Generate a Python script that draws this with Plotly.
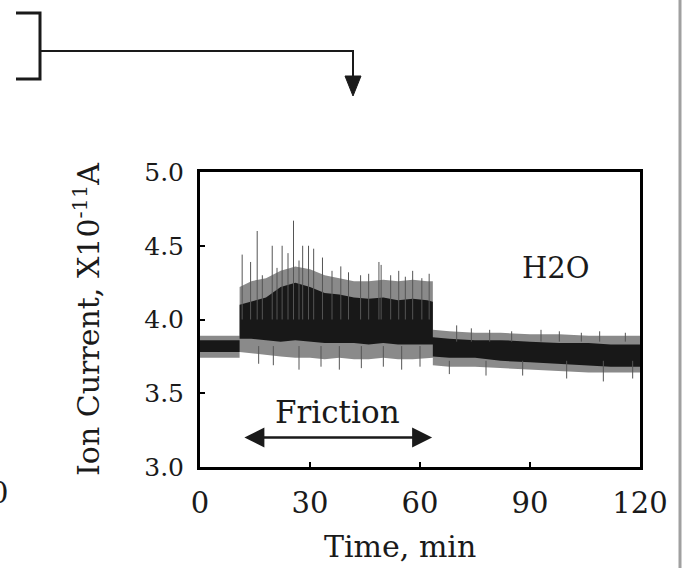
import plotly.graph_objects as go

W, H = 682, 568
L, R, T, B = 200, 42, 172, 101  # plot box: x 200..640, y 172..467

# signal envelopes (time in min, ion current x1e-11 A)
t_env = [0, 5, 10.8, 10.8, 14, 18, 22, 26, 30, 34, 38, 42, 46, 50, 54, 58, 62, 63.5,
         63.5, 68, 75, 82, 90, 98, 106, 112, 120]
core_lo = [3.78, 3.78, 3.78, 3.87, 3.87, 3.86, 3.85, 3.86, 3.85, 3.84, 3.84, 3.84, 3.83,
           3.84, 3.83, 3.83, 3.83, 3.83, 3.75, 3.74, 3.74, 3.72, 3.71, 3.70, 3.69, 3.68, 3.68]
core_hi = [3.86, 3.86, 3.86, 4.10, 4.12, 4.15, 4.22, 4.25, 4.22, 4.18, 4.17, 4.15, 4.14,
           4.15, 4.13, 4.14, 4.13, 4.12, 3.88, 3.87, 3.86, 3.86, 3.85, 3.84, 3.84, 3.83, 3.83]
outer_lo = [3.74, 3.74, 3.74, 3.78, 3.77, 3.76, 3.75, 3.74, 3.74, 3.73, 3.74, 3.73, 3.73,
            3.74, 3.73, 3.73, 3.74, 3.74, 3.69, 3.68, 3.68, 3.67, 3.66, 3.65, 3.64, 3.64, 3.64]
outer_hi = [3.89, 3.89, 3.89, 4.22, 4.26, 4.28, 4.33, 4.36, 4.34, 4.30, 4.28, 4.26, 4.26,
            4.27, 4.26, 4.27, 4.26, 4.26, 3.93, 3.92, 3.91, 3.91, 3.90, 3.90, 3.89, 3.89, 3.89]

# single spikes sticking out of the band: time, start, end
spike_t = [11.5, 13.8, 15.6, 17.0, 19.7, 21.0, 22.4, 24.0, 25.5, 27.0, 28.0, 29.6, 31.0,
           33.4, 36.0, 38.4, 40.5, 43.8, 46.0, 48.8, 49.4, 52.0, 54.2, 56.0, 58.0, 60.5,
           62.5,
           16.0, 20.0, 27.0, 33.0, 38.0, 44.0, 50.0, 55.0, 60.0,
           70.0, 74.0, 79.0, 85.0, 93.0, 98.0, 104.0, 109.0, 116.0,
           68.0, 78.0, 88.0, 100.0, 110.0, 118.0]
spike_from = [4.0] * 27 + [3.82] * 9 + [3.85] * 9 + [3.72] * 6
spike_to = [4.44, 4.39, 4.60, 4.30, 4.50, 4.35, 4.50, 4.45, 4.67, 4.40, 4.50, 4.50, 4.48,
            4.42, 4.33, 4.36, 4.32, 4.30, 4.31, 4.39, 4.37, 4.30, 4.33, 4.29, 4.33, 4.28,
            4.31,
            3.70, 3.69, 3.66, 3.68, 3.66, 3.67, 3.68, 3.66, 3.68,
            3.96, 3.94, 3.93, 3.92, 3.93, 3.92, 3.91, 3.92, 3.91,
            3.63, 3.62, 3.62, 3.60, 3.58, 3.60]

x_ticks = [0, 30, 60, 90, 120]
y_ticks = [3.0, 3.5, 4.0, 4.5, 5.0]
friction_span = [11.7, 63.3]

FONT = "DejaVu Serif"
INK = "#1a1a1a"


def px(x):
    return (x - L) / (W - L - R)


def py(y):
    return (H - B - y) / (H - T - B)


fig = go.Figure()
fig.add_trace(go.Scatter(x=t_env, y=outer_lo, mode="lines", line=dict(width=0),
                         hoverinfo="skip", showlegend=False))
fig.add_trace(go.Scatter(x=t_env, y=outer_hi, mode="lines", line=dict(width=0),
                         fill="tonexty", fillcolor="#8a8a8a", showlegend=False))
fig.add_trace(go.Scatter(x=t_env, y=core_lo, mode="lines", line=dict(width=0),
                         hoverinfo="skip", showlegend=False))
fig.add_trace(go.Scatter(x=t_env, y=core_hi, mode="lines", line=dict(width=0),
                         fill="tonexty", fillcolor="#181818", showlegend=False))

sx, sy = [], []
for t, a, b in zip(spike_t, spike_from, spike_to):
    sx += [t, t, None]
    sy += [a, b, None]
fig.add_trace(go.Scatter(x=sx, y=sy, mode="lines", line=dict(width=1, color="#555"),
                         showlegend=False))

# Friction double arrow + label
fig.add_annotation(x=friction_span[1], y=3.20, ax=friction_span[0], ay=3.20,
                   xref="x", yref="y", axref="x", ayref="y", text="",
                   showarrow=True, arrowhead=2, arrowside="end+start",
                   arrowwidth=2.5, arrowsize=1.6, arrowcolor=INK)
fig.add_annotation(x=sum(friction_span) / 2, y=3.37, text="Friction", showarrow=False,
                   font=dict(family=FONT, size=31, color=INK))
fig.add_annotation(x=97, y=4.35, text="H2O", showarrow=False,
                   font=dict(family=FONT, size=29, color=INK))

# x title sits a little left of the box centre in the original
fig.add_annotation(xref="paper", yref="paper", x=px(400), y=py(546), text="Time, min",
                   xanchor="center", yanchor="middle", showarrow=False,
                   font=dict(family=FONT, size=30, color=INK))

# clipped "0" from the neighbouring panel
fig.add_annotation(xref="paper", yref="paper", x=px(-1), y=py(493), text="0",
                   xanchor="center", yanchor="middle", showarrow=False,
                   font=dict(family=FONT, size=29, color=INK))

# bracket and pointer line at the top-left
fig.add_shape(type="path", xref="paper", yref="paper", line=dict(color=INK, width=3),
              path=f"M {px(16)} {py(13)} L {px(40)} {py(13)} L {px(40)} {py(79)} L {px(16)} {py(79)}")
fig.add_shape(type="path", xref="paper", yref="paper", line=dict(color=INK, width=2),
              path=f"M {px(40)} {py(51)} L {px(353)} {py(51)} L {px(353)} {py(78)}")
fig.add_shape(type="path", xref="paper", yref="paper", line=dict(color=INK, width=1),
              fillcolor=INK,
              path=f"M {px(345)} {py(76)} L {px(361)} {py(76)} L {px(353)} {py(96)} Z")
# gray divider on the right
fig.add_shape(type="line", xref="paper", yref="paper", x0=px(680), x1=px(680),
              y0=py(0), y1=py(568), line=dict(color="#a0a0a0", width=3))

axis_common = dict(showgrid=False, zeroline=False, showline=True, linecolor="black",
                   linewidth=3, mirror=True, ticks="inside", ticklen=5, tickwidth=2,
                   tickcolor="black")
fig.update_xaxes(range=[0, 120], tickvals=x_ticks, ticktext=[str(v) for v in x_ticks],
                 tickfont=dict(family=FONT, size=29, color=INK), ticklabelstandoff=8,
                 **axis_common)
fig.update_yaxes(range=[3.0, 5.0], tickvals=y_ticks, ticktext=[f"{v:.1f}" for v in y_ticks],
                 tickfont=dict(family=FONT, size=25, color=INK), ticklabelstandoff=8,
                 title=dict(text="Ion Current, X10<sup>-11</sup>A",
                            font=dict(family=FONT, size=30, color=INK), standoff=36),
                 **axis_common)
fig.update_layout(width=W, height=H, margin=dict(l=L, r=R, t=T, b=B),
                  plot_bgcolor="white", paper_bgcolor="white", showlegend=False)

# the page's default body margin would push the figure 8px right and down
fig.write_html("out.html", config={"displayModeBar": False},
               post_script="document.body.style.margin='0';")
